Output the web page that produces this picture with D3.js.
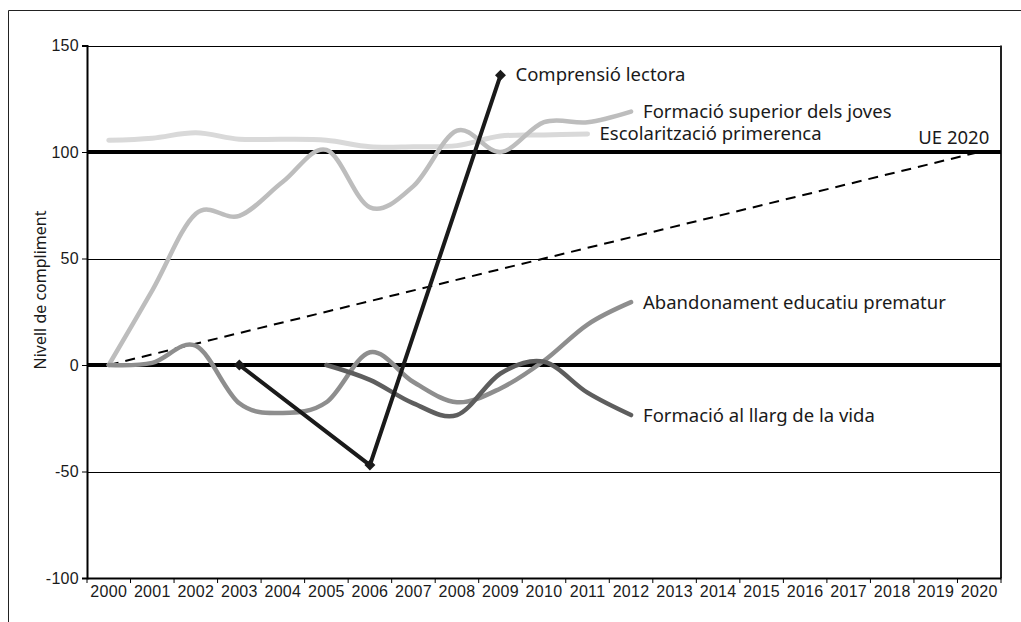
<!DOCTYPE html>
<html>
<head>
<meta charset="utf-8">
<script src="https://cdn.jsdelivr.net/npm/d3@7"></script>
<style>
  body { margin: 0; background: #fff; }
  svg { display: block; font-family: 'Noto Sans', sans-serif; }
  .c-axis text { font-size: 16px; fill: #1a1a1a; letter-spacing: 0.3px; font-variant-numeric: oldstyle-nums; }
  .c-axis path, .c-axis line { stroke: #000; }
  .c-label { font-size: 18.5px; fill: #1a1a1a; }
</style>
</head>
<body>
<div id="chart"></div>
<script>
// values
const years = ['2000', '2001', '2002', '2003', '2004', '2005', '2006', '2007', '2008', '2009', '2010',
  '2011', '2012', '2013', '2014', '2015', '2016', '2017', '2018', '2019', '2020'];
const yTicks = [-100, -50, 0, 50, 100, 150];
const gridValues = [-50, 50];
const targetValues = [0, 100];

const escolaritzacio = [105.5, 106.5, 109, 106, 106, 105.5, 102.5, 102.5, 103, 107.5, 108, 108.5];
const formacioSuperior = [0, 35, 71, 70, 86, 101, 74, 84, 110, 100, 114, 114, 119];
const abandonament = [0, 1, 9, -18, -22.5, -17.5, 6, -8, -17.5, -11, 2, 19, 29.5];
const formacioLlarg = [null, null, null, null, null, 0, -7, -18, -23.5, -4, 1.5, -13, -23.5];
const comprensio = [null, null, null, 0, null, null, -47, null, null, 136];
const ue2020Years = ['2000', '2020'];
const ue2020 = [0, 100];

class ComplimentChart {
  constructor () {
    this.width = 1021;
    this.height = 622;
    this.left = 87;
    this.right = 1001;
    this.top = 45.5;
    this.bottom = 578;
    this.chart = null;
  }

  points (values, keys) {
    keys = keys || years;
    return values
      .map((v, i) => ({ year: keys[i], value: v }))
      .filter((d) => d.value !== null);
  }

  initScales () {
    this.xScale = d3.scaleBand().domain(years).range([this.left, this.right]);
    this.yScale = d3.scaleLinear().domain([-100, 150]).range([this.bottom, this.top]);
    this.xPos = (year) => this.xScale(year) + this.xScale.bandwidth() / 2;
  }

  createSvg () {
    this.chart = d3.select('#chart')
      .append('svg')
      .attr('width', this.width)
      .attr('height', this.height);

    // outer frame, only top and left edges show in the picture
    this.chart.append('path')
      .attr('d', 'M8.5,' + this.height + 'V10.5H' + this.width)
      .attr('fill', 'none')
      .attr('stroke', '#222')
      .attr('stroke-width', 1);
  }

  drawGrid () {
    let g = this.chart.append('g').attr('class', 'c-grid');

    g.selectAll('line.grid')
      .data(gridValues.concat([150]))
      .enter()
      .append('line')
      .attr('class', 'grid')
      .attr('x1', this.left)
      .attr('x2', this.right)
      .attr('y1', (d) => Math.round(this.yScale(d)) + 0.5)
      .attr('y2', (d) => Math.round(this.yScale(d)) + 0.5)
      .attr('stroke', '#000')
      .attr('stroke-width', 1);

    // right edge of the plot box
    g.append('line')
      .attr('x1', this.right)
      .attr('x2', this.right)
      .attr('y1', this.top)
      .attr('y2', this.bottom)
      .attr('stroke', '#222')
      .attr('stroke-width', 2);

    g.selectAll('line.target')
      .data(targetValues)
      .enter()
      .append('line')
      .attr('class', 'target')
      .attr('x1', this.left)
      .attr('x2', this.right)
      .attr('y1', (d) => this.yScale(d))
      .attr('y2', (d) => this.yScale(d))
      .attr('stroke', '#000')
      .attr('stroke-width', 4);
  }

  drawAxes () {
    let yAxis = d3.axisLeft(this.yScale)
      .tickValues(yTicks)
      .tickFormat((d) => String(d))
      .tickSize(5)
      .tickPadding(3);
    let xAxis = d3.axisBottom(this.xScale).tickSize(0).tickPadding(8);

    let gy = this.chart.append('g')
      .attr('class', 'c-axis')
      .attr('transform', 'translate(' + this.left + ', 0)')
      .call(yAxis);
    gy.select('.domain').attr('stroke-width', 2);

    let gx = this.chart.append('g')
      .attr('class', 'c-axis')
      .attr('transform', 'translate(0, ' + this.bottom + ')')
      .call(xAxis);
    gx.select('.domain').attr('stroke-width', 2);

    // tick marks sit between the categories
    gx.selectAll('line.edge')
      .data(years.concat(['end']))
      .enter()
      .append('line')
      .attr('class', 'edge')
      .attr('x1', (d) => d === 'end' ? this.right : this.xScale(d))
      .attr('x2', (d) => d === 'end' ? this.right : this.xScale(d))
      .attr('y1', 0)
      .attr('y2', 5)
      .attr('stroke', '#000');

    this.chart.append('text')
      .attr('class', 'c-label')
      .attr('transform', 'translate(46, 290) rotate(-90)')
      .attr('text-anchor', 'middle')
      .style('font-size', '16px')
      .text('Nivell de compliment');
  }

  drawSeries () {
    let smooth = d3.line()
      .x((d) => this.xPos(d.year))
      .y((d) => this.yScale(d.value))
      .curve(d3.curveCardinal.tension(0));

    let straight = d3.line()
      .x((d) => this.xPos(d.year))
      .y((d) => this.yScale(d.value));

    this.chart.append('path')
      .attr('d', straight(this.points(ue2020, ue2020Years)))
      .attr('fill', 'none')
      .attr('stroke', '#000')
      .attr('stroke-width', 2)
      .attr('stroke-dasharray', '10,7');

    let series = [
      { name: 'Escolarització primerenca', values: escolaritzacio, color: '#d9d9d9', width: 5 },
      { name: 'Formació superior dels joves', values: formacioSuperior, color: '#bdbdbd', width: 4.5 },
      { name: 'Abandonament educatiu prematur', values: abandonament, color: '#8e8e8e', width: 4.5 },
      { name: 'Formació al llarg de la vida', values: formacioLlarg, color: '#5e5e5e', width: 4.5 }
    ];

    series.forEach((s) => {
      let pts = this.points(s.values);
      this.chart.append('path')
        .attr('d', smooth(pts))
        .attr('fill', 'none')
        .attr('stroke', s.color)
        .attr('stroke-width', s.width)
        .attr('stroke-linecap', 'round');

      let last = pts[pts.length - 1];
      this.chart.append('text')
        .attr('class', 'c-label')
        .attr('x', this.xPos(last.year) + 12)
        .attr('y', this.yScale(last.value))
        .attr('dy', '0.35em')
        .text(s.name);
    });

    let cPts = this.points(comprensio);
    this.chart.append('path')
      .attr('d', straight(cPts))
      .attr('fill', 'none')
      .attr('stroke', '#1a1a1a')
      .attr('stroke-width', 4);

    this.chart.append('g')
      .selectAll('path')
      .data(cPts)
      .enter()
      .append('path')
      .attr('d', d3.symbol().type(d3.symbolSquare).size(60))
      .attr('transform', (d) => 'translate(' + this.xPos(d.year) + ',' + this.yScale(d.value) + ') rotate(45)')
      .attr('fill', '#1a1a1a');

    let cLast = cPts[cPts.length - 1];
    this.chart.append('text')
      .attr('class', 'c-label')
      .attr('x', this.xPos(cLast.year) + 15)
      .attr('y', this.yScale(cLast.value) - 1)
      .attr('dy', '0.35em')
      .text('Comprensió lectora');

    this.chart.append('text')
      .attr('class', 'c-label')
      .attr('x', this.xPos('2020') + 10)
      .attr('y', this.yScale(100) - 14)
      .attr('dy', '0.35em')
      .attr('text-anchor', 'end')
      .text('UE 2020');
  }

  render () {
    this.createSvg();
    this.initScales();
    this.drawGrid();
    this.drawSeries();
    this.drawAxes();
  }
}

new ComplimentChart().render();
</script>
</body>
</html>
